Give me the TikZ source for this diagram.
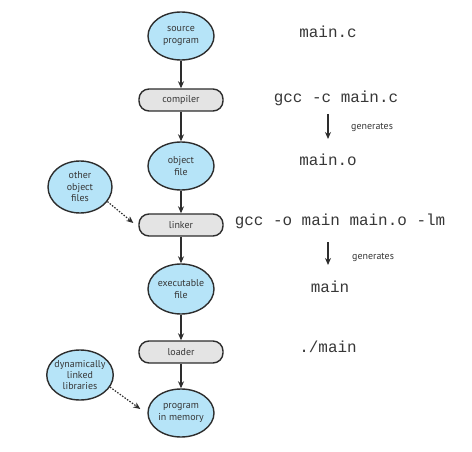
\documentclass[tikz,border=0pt]{standalone}
\usepackage{fontspec}
\setmainfont{PT Sans}
\newfontfamily\codefont{Liberation Mono}
\usetikzlibrary{shapes.geometric,arrows.meta}
\definecolor{ellfill}{RGB}{182,228,248}
\definecolor{boxfill}{RGB}{228,228,228}
\definecolor{linec}{RGB}{45,45,45}
\definecolor{txt}{RGB}{55,55,55}
\begin{document}
\begin{tikzpicture}[x=1bp,y=-1bp,
  ell/.style={ellipse, draw=linec, line width=1.4bp, fill=ellfill, minimum width=66bp, minimum height=48bp, inner sep=0pt, align=center, text=txt, font=\fontsize{10}{11.5}\selectfont},
  procbox/.style={rectangle, rounded corners=10bp, draw=linec, line width=1.4bp, fill=boxfill, minimum width=84bp, minimum height=22bp, inner sep=0pt, text=txt, font=\fontsize{10}{11.5}\selectfont},
  code/.style={inner sep=0pt, text=txt, font=\codefont\fontsize{16}{18}\selectfont},
  gen/.style={inner sep=0pt, text=txt, font=\fontsize{10}{11}\selectfont},
  arr/.style={draw=linec, line width=1.2bp, -{Stealth[length=7bp,width=6bp]}},
  dotarr/.style={draw=linec, line width=1.2bp, dash pattern=on 1.5bp off 1.5bp, -{Stealth[length=7bp,width=6bp]}}
]
\useasboundingbox (0,0) rectangle (472,452);
% main column
\node[ell] (src) at (181,36) {source\\program};
\node[procbox] (comp) at (181,100) {compiler};
\node[ell] (obj) at (181,166) {object\\file};
\node[procbox] (link) at (181,225) {linker};
\node[ell, minimum height=50bp] (exe) at (181,289) {executable\\file};
\node[procbox] (load) at (181,352) {loader};
\node[ell] (mem) at (181,413) {program\\in memory};
% side inputs
\node[ell, minimum width=64bp, minimum height=52bp] (oof) at (80,187) {other\\object\\files};
\node[ell, minimum width=66bp, minimum height=50bp, inner sep=-2bp] (dll) at (80,375) {dynamically\\linked\\libraries};
% arrows
\draw[arr] (src) -- (comp);
\draw[arr] (comp) -- (obj);
\draw[arr] (obj) -- (link);
\draw[arr] (link) -- (exe);
\draw[arr] (exe) -- (load);
\draw[arr] (load) -- (mem);
\draw[dotarr] (oof.-28) -- ([xshift=-5bp,yshift=2bp]link.west);
\draw[dotarr] (dll.-22) -- ([xshift=-7bp,yshift=4bp]mem.west);
% right column
\node[code] (c1) at (328,32) {main.c};
\node[code] (c2) at (336,98) {gcc -c main.c};
\node[code] (c3) at (328,160) {main.o};
\node[code] (c4) at (340,221) {gcc -o main main.o -lm};
\node[code] (c5) at (330,287) {main};
\node[code] (c6) at (328,347) {./main};
\coordinate (g1a) at (328,114);
\coordinate (g1b) at (328,139);
\coordinate (g2a) at (328,242);
\coordinate (g2b) at (328,265);
\draw[arr] (g1a) -- (g1b);
\draw[arr] (g2a) -- (g2b);
\node[gen, anchor=west] (gt1) at (351,127) {generates};
\node[gen, anchor=west] (gt2) at (352,257) {generates};
\end{tikzpicture}
\end{document}
